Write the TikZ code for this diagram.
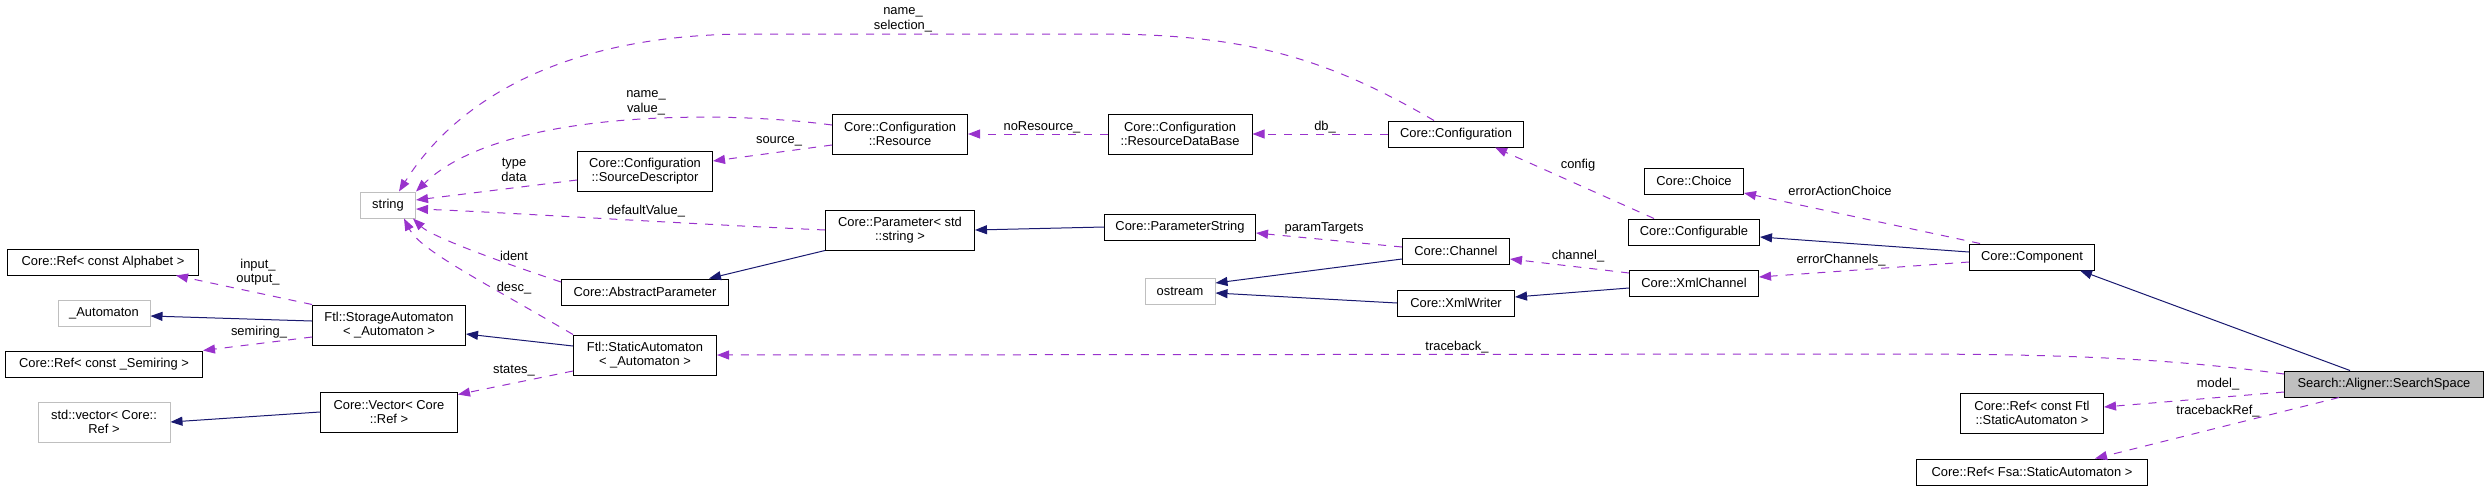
\documentclass[tikz,border=0pt]{standalone}
\usepackage{fontspec}
\setsansfont{Liberation Sans}
\usetikzlibrary{arrows.meta}
\definecolor{inhblue}{RGB}{25,25,112}
\definecolor{usepurple}{RGB}{153,50,204}
\definecolor{extgray}{RGB}{191,191,191}
\tikzset{
  cls/.style={draw=black, line width=1pt, fill=white, align=center, inner sep=0pt,
    font=\sffamily\fontsize{12.9}{14.4}\selectfont},
  extcls/.style={cls, draw=extgray},
  curcls/.style={cls, fill=extgray},
  one/.style={minimum height=26pt},
  two/.style={minimum height=40pt},
  inh/.style={draw=inhblue, line width=1pt, -{Triangle[length=12pt,width=9pt]}},
  usage/.style={draw=usepurple, line width=1pt, dash pattern=on 8pt off 8pt,
    -{Triangle[length=12pt,width=9pt]}},
  lbl/.style={font=\sffamily\fontsize{12.9}{14.4}\selectfont, align=center, inner sep=0pt}
}
\begin{document}
\begin{tikzpicture}[x=1pt, y=-1pt]
  \useasboundingbox (0,0) rectangle (2488,491);
  % classes
  \node[extcls, one, minimum width=55pt]  (strg)     at (388,205)  {string};
  \node[cls, one, minimum width=191pt]    (refalph)  at (103,262)  {Core::Ref< const Alphabet >};
  \node[extcls, one, minimum width=92pt]  (autm)     at (104,313)  {\_Automaton};
  \node[cls, one, minimum width=197pt]    (refsemi)  at (104,364)  {Core::Ref< const \_Semiring >};
  \node[extcls, two, minimum width=132pt] (stdvec)   at (104,422)  {std::vector< Core::\\Ref >};
  \node[cls, two, minimum width=153pt]    (storage)  at (389,325)  {Ftl::StorageAutomaton\\< \_Automaton >};
  \node[cls, two, minimum width=137pt]    (vector)   at (389,412)  {Core::Vector< Core\\::Ref >};
  \node[cls, two, minimum width=135pt]    (srcdesc)  at (645,171)  {Core::Configuration\\::SourceDescriptor};
  \node[cls, one, minimum width=167pt]    (absparam) at (645,292)  {Core::AbstractParameter};
  \node[cls, two, minimum width=143pt]    (static)   at (645,355)  {Ftl::StaticAutomaton\\< \_Automaton >};
  \node[cls, two, minimum width=135pt]    (resource) at (900,134)  {Core::Configuration\\::Resource};
  \node[cls, two, minimum width=149pt]    (param)    at (900,230)  {Core::Parameter< std\\::string >};
  \node[cls, two, minimum width=144pt]    (resdb)    at (1180,134) {Core::Configuration\\::ResourceDataBase};
  \node[cls, one, minimum width=151pt]    (paramstr) at (1180,227) {Core::ParameterString};
  \node[extcls, one, minimum width=70pt]  (ostrm)    at (1180,291) {ostream};
  \node[cls, one, minimum width=135pt]    (config)   at (1456,134) {Core::Configuration};
  \node[cls, one, minimum width=107pt]    (channel)  at (1456,251) {Core::Channel};
  \node[cls, one, minimum width=117pt]    (xmlwriter) at (1456,303) {Core::XmlWriter};
  \node[cls, one, minimum width=99pt]     (choice)   at (1694,181) {Core::Choice};
  \node[cls, one, minimum width=131pt]    (configurable) at (1694,232) {Core::Configurable};
  \node[cls, one, minimum width=129pt]    (xmlchannel) at (1694,283) {Core::XmlChannel};
  \node[cls, one, minimum width=125pt]    (component) at (2032,257) {Core::Component};
  \node[cls, two, minimum width=143pt]    (refftl)   at (2032,413) {Core::Ref< const Ftl\\::StaticAutomaton >};
  \node[cls, one, minimum width=231pt]    (reffsa)   at (2032,472) {Core::Ref< Fsa::StaticAutomaton >};
  \node[curcls, one, minimum width=199pt] (searchspace) at (2384,384) {Search::Aligner::SearchSpace};

  % inheritance
  \draw[inh] ([yshift=4pt]storage.west) -- ([yshift=-3pt]autm.east);
  \draw[inh] ([yshift=9pt]static.west) -- ([yshift=-9pt]storage.east);
  \draw[inh] (vector.west) -- (stdvec.east);
  \draw[inh] (param.south west) -- ([xshift=-20pt]absparam.north east);
  \draw[inh] (paramstr.west) -- (param.east);
  \draw[inh] ([yshift=-8pt]channel.west) -- ([yshift=8pt]ostrm.east);
  \draw[inh] (xmlwriter.west) -- ([yshift=-2pt]ostrm.east);
  \draw[inh] ([yshift=-5pt]xmlchannel.west) -- ([yshift=6pt]xmlwriter.east);
  \draw[inh] ([yshift=5pt]component.west) -- ([yshift=-5pt]configurable.east);
  \draw[inh] ([xshift=-34pt]searchspace.north) -- ([xshift=48pt]component.south);

  % usage
  \draw[usage] ([xshift=-22pt]config.north) .. controls (1330,60) and (1250,34) .. (1100,34)
    -- (750,34) .. controls (550,34) and (450,110) .. ([xshift=11pt]strg.north);
  \draw[usage] ([yshift=9pt]resource.west) .. controls (720,110) and (500,110) .. (strg.north east);
  \draw[usage] ([yshift=-9pt]srcdesc.west) -- ([yshift=5pt]strg.east);
  \draw[usage] ([yshift=-11pt]resource.west) -- ([yshift=10pt]srcdesc.east);
  \draw[usage] (resdb.west) -- (resource.east);
  \draw[usage] (config.west) -- (resdb.east);
  \draw[usage] (param.west) .. controls (650,222) and (500,212) .. ([yshift=-4pt]strg.east);
  \draw[usage] ([yshift=10pt]absparam.west) .. controls (480,255) and (430,235) .. ([xshift=-3pt]strg.south east);
  \draw[usage] (static.north west) .. controls (480,280) and (420,250) .. ([xshift=16pt]strg.south);
  \draw[usage] (storage.north west) -- ([xshift=-23pt]refalph.south east);
  \draw[usage] ([yshift=-12pt]storage.west) -- (refsemi.north east);
  \draw[usage] ([yshift=-16pt]static.west) -- ([yshift=-3pt]vector.north east);
  \draw[usage] ([yshift=10pt]searchspace.west) .. controls (2180,360) and (2080,354) .. (1900,354)
    -- (static.east);
  \draw[usage] ([yshift=-8pt]searchspace.west) -- ([yshift=6pt]refftl.east);
  \draw[usage] ([xshift=-45pt]searchspace.south) -- ([xshift=63pt]reffsa.north);
  \draw[usage] ([xshift=11pt]component.north west) -- ([yshift=-12pt]choice.east);
  \draw[usage] ([yshift=-5pt]component.west) -- ([yshift=6pt]xmlchannel.east);
  \draw[usage] ([xshift=-40pt]configurable.north) -- ([xshift=39pt]config.south);
  \draw[usage] ([yshift=4pt]channel.west) -- ([yshift=-6pt]paramstr.east);
  \draw[usage] ([yshift=10pt]xmlchannel.west) -- ([yshift=-8pt]channel.east);

  % labels
  \node[lbl] (lnamesel)  at (903,20)   {name\_\\selection\_};
  \node[lbl] (lnameval)  at (646,103)  {name\_\\value\_};
  \node[lbl] (ltype)     at (514,170)  {type\\data};
  \node[lbl] (lsource)   at (779,141)  {source\_};
  \node[lbl] (lnores)    at (1042,127) {noResource\_};
  \node[lbl] (ldb)       at (1325,127) {db\_};
  \node[lbl] (ldefault)  at (646,211)  {defaultValue\_};
  \node[lbl] (lident)    at (514,256)  {ident};
  \node[lbl] (ldesc)     at (514,288)  {desc\_};
  \node[lbl] (linput)    at (258,272)  {input\_\\output\_};
  \node[lbl] (lsemi)     at (259,332)  {semiring\_};
  \node[lbl] (lstates)   at (514,371)  {states\_};
  \node[lbl] (ltrace)    at (1457,347) {traceback\_};
  \node[lbl] (lmodel)    at (2218,384) {model\_};
  \node[lbl] (ltraceref) at (2218,411) {tracebackRef\_};
  \node[lbl] (lerract)   at (1840,191) {errorActionChoice};
  \node[lbl] (lerrchan)  at (1841,260) {errorChannels\_};
  \node[lbl] (lconfig)   at (1578,165) {config};
  \node[lbl] (lparamt)   at (1324,228) {paramTargets};
  \node[lbl] (lchannel)  at (1578,256) {channel\_};
\end{tikzpicture}
\end{document}
